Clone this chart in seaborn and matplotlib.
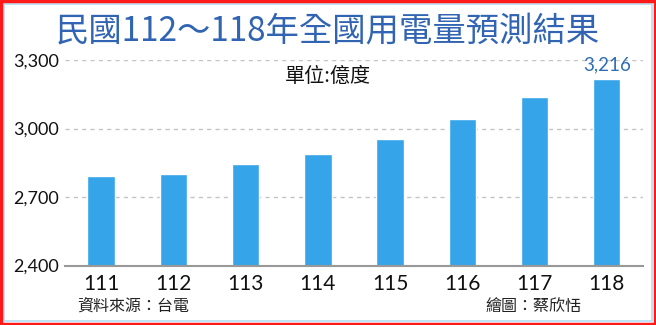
import pandas as pd
import seaborn as sns
import matplotlib.pyplot as plt
from matplotlib.patches import Rectangle

# data (億度)
years = ["111", "112", "113", "114", "115", "116", "117", "118"]
usage = [2793, 2802, 2846, 2889, 2956, 3041, 3140, 3216]
y_ticks = [2400, 2700, 3000, 3300]

sns.set_theme(style="white")
plt.rcParams["font.family"] = ["Lato", "DejaVu Sans"]
cjk = ["Noto Sans CJK TC", "DejaVu Sans"]

df = pd.DataFrame({"year": years, "usage": usage})

fig = plt.figure(figsize=(6.56, 3.25), dpi=100)
ax = fig.add_axes([0.099, 0.183, 0.881, 0.632])

sns.barplot(data=df, x="year", y="usage", color="#35a4e8", saturation=1,
            width=0.38, ax=ax)

ax.set_ylim(2400, 3300)
ax.set_xlim(-0.5, len(years) - 0.5)
ax.set_yticks(y_ticks)
ax.set_yticklabels([f"{v:,}" for v in y_ticks], fontsize=13, color="#111111")
ax.tick_params(axis="x", labelsize=15, labelcolor="#111111", length=0, pad=6)
ax.tick_params(axis="y", length=0, pad=4)
ax.set_xlabel("")
ax.set_ylabel("")

for y in y_ticks[1:]:
    ax.axhline(y, color="#c4c4c4", lw=1, ls=(0, (3, 3)), zorder=0)

for side in ["top", "right", "left"]:
    ax.spines[side].set_visible(False)
ax.spines["bottom"].set_color("#999999")
ax.spines["bottom"].set_linewidth(1.5)

# last value label
ax.text(len(years) - 1, usage[-1] + 25, f"{usage[-1]:,}", ha="center", va="bottom",
        fontsize=13.5, color="#2f6db5", clip_on=False)

fig.text(0.5, 0.905, "民國112～118年全國用電量預測結果", ha="center", va="center",
         fontsize=24, color="#3165b3", family=cjk)
fig.text(0.5, 0.766, "單位:億度", ha="center", va="center",
         fontsize=14.5, color="#111111", family=cjk)
fig.text(0.117, 0.058, "資料來源：台電", ha="left", va="center",
         fontsize=11.5, color="#222222", family=cjk)
fig.text(0.74, 0.058, "繪圖：蔡欣恬", ha="left", va="center",
         fontsize=11.5, color="#222222", family=cjk)

# frames
fig.patches.append(Rectangle((0.006, 0.012), 0.988, 0.976, transform=fig.transFigure,
                             fill=False, ec="#b5dcf5", lw=1.2))
fig.patches.append(Rectangle((0.001, 0.003), 0.998, 0.994, transform=fig.transFigure,
                             fill=False, ec="#ff1a1a", lw=2.5))

fig.savefig("out.png", dpi=100)
